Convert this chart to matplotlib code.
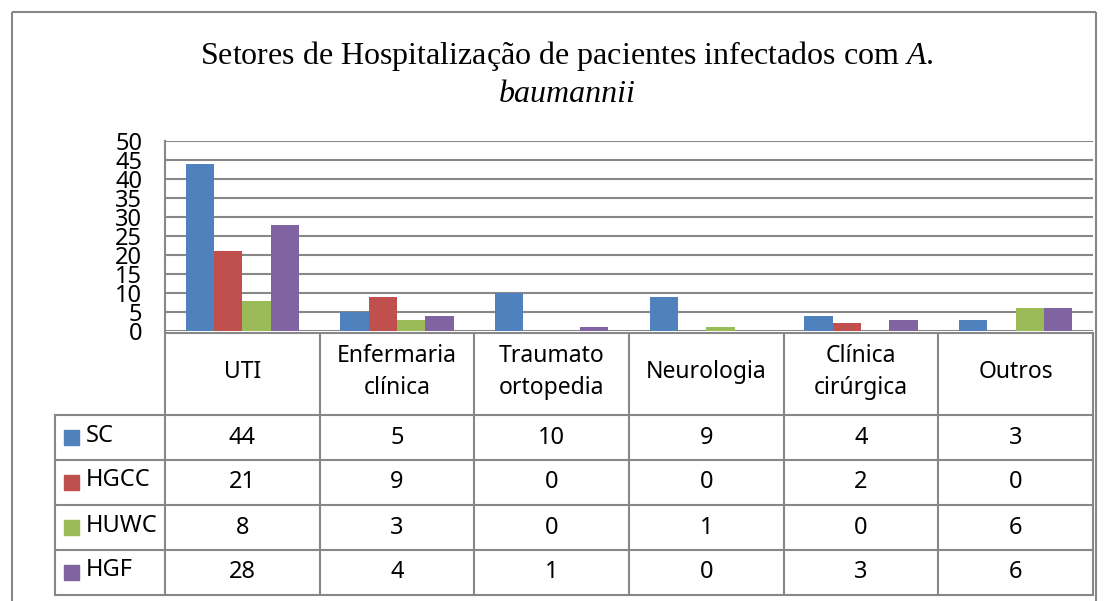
import matplotlib
matplotlib.use("Agg")
import matplotlib.pyplot as plt

plt.rcParams["mathtext.fontset"] = "custom"
plt.rcParams["mathtext.rm"] = "Liberation Serif"
plt.rcParams["mathtext.it"] = "Liberation Serif:italic"

# ---- data ----
categories = ["UTI", "Enfermaria\nclínica", "Traumato\nortopedia", "Neurologia",
              "Clínica\ncirúrgica", "Outros"]
series_names = ["SC", "HGCC", "HUWC", "HGF"]
sc = [44, 5, 10, 9, 4, 3]
hgcc = [21, 9, 0, 0, 2, 0]
huwc = [8, 3, 0, 1, 0, 6]
hgf = [28, 4, 1, 0, 3, 6]
series_values = [sc, hgcc, huwc, hgf]
colors = ["#4F81BD", "#C0504D", "#9BBB59", "#8064A2"]
y_ticks = [0, 5, 10, 15, 20, 25, 30, 35, 40, 45, 50]

W, H = 1107, 601
fig = plt.figure(figsize=(W / 100, H / 100), dpi=100)
fig.patch.set_facecolor("white")

GRAY = "#878787"
SANS = ["Noto Sans", "DejaVu Sans"]

# overlay axes in pixel coordinates (frame, title, table)
ov = fig.add_axes([0, 0, 1, 1])
ov.set_xlim(0, W)
ov.set_ylim(H, 0)
ov.axis("off")
ov.patch.set_alpha(0)

# outer border
ov.plot([12, 12], [12, H], color=GRAY, lw=1.5, solid_capstyle="butt")
ov.plot([12, 1096], [12, 12], color=GRAY, lw=1.5, solid_capstyle="butt")
ov.plot([1096, 1096], [12, H], color=GRAY, lw=1.5, solid_capstyle="butt")

# title
ov.text(567, 64, "Setores de Hospitalização de pacientes infectados com $\\mathit{A.}$",
        ha="center", va="baseline", fontsize=23, family="Liberation Serif")
ov.text(567, 102, "baumannii", ha="center", va="baseline", fontsize=23,
        family="Liberation Serif", style="italic")

# plot area
x0, x1, ytop, ybase = 165, 1093, 141, 331
ax = fig.add_axes([x0 / W, 1 - ybase / H, (x1 - x0) / W, (ybase - ytop) / H])
ax.patch.set_alpha(0)
ax.set_xlim(0, len(categories))
ax.set_ylim(0, 50)
ax.set_yticks(y_ticks)
ax.set_yticklabels([str(t) for t in y_ticks], fontsize=17, family=SANS)
ax.tick_params(axis="y", length=0, pad=16.5)
ax.set_xticks([])
for s in ["top", "right", "bottom"]:
    ax.spines[s].set_visible(False)
ax.spines["left"].set_color(GRAY)
ax.spines["left"].set_linewidth(1.5)
ax.yaxis.grid(True, color=GRAY, lw=1.5)
ax.set_axisbelow(True)

bw = 0.183
for i, (vals, col) in enumerate(zip(series_values, colors)):
    xs = [c + 0.5 + (i - 1.5) * bw for c in range(len(categories))]
    ax.bar(xs, vals, width=bw, color=col, zorder=3)

# table
col_edges = [x0 + (x1 - x0) * k / len(categories) for k in range(len(categories) + 1)]
row_edges = [415, 460, 505, 550, 595]
head_top = 333
lbl_left = 55

ov.plot([x0, x1], [head_top, head_top], color=GRAY, lw=1.5, zorder=1)
for xe in col_edges:
    ov.plot([xe, xe], [head_top, row_edges[-1]], color=GRAY, lw=1.5, zorder=1)
ov.plot([lbl_left, lbl_left], [row_edges[0], row_edges[-1]], color=GRAY, lw=1.5)
for ye in row_edges:
    ov.plot([lbl_left, x1], [ye, ye], color=GRAY, lw=1.5)

# header labels
for k, cat in enumerate(categories):
    cx = (col_edges[k] + col_edges[k + 1]) / 2
    ov.text(cx, 372, cat, ha="center", va="center", fontsize=16.5,
            family=SANS, linespacing=1.4)

# rows
for r, (name, vals, col) in enumerate(zip(series_names, series_values, colors)):
    cy = (row_edges[r] + row_edges[r + 1]) / 2
    ov.add_patch(plt.Rectangle((64, cy - 8), 15, 15, color=col))
    ov.text(86, cy - 2, name, ha="left", va="center", fontsize=17, family=SANS)
    for k, v in enumerate(vals):
        cx = (col_edges[k] + col_edges[k + 1]) / 2
        ov.text(cx, cy, str(v), ha="center", va="center", fontsize=17,
                family=SANS)

fig.savefig("out.png", dpi=100)
